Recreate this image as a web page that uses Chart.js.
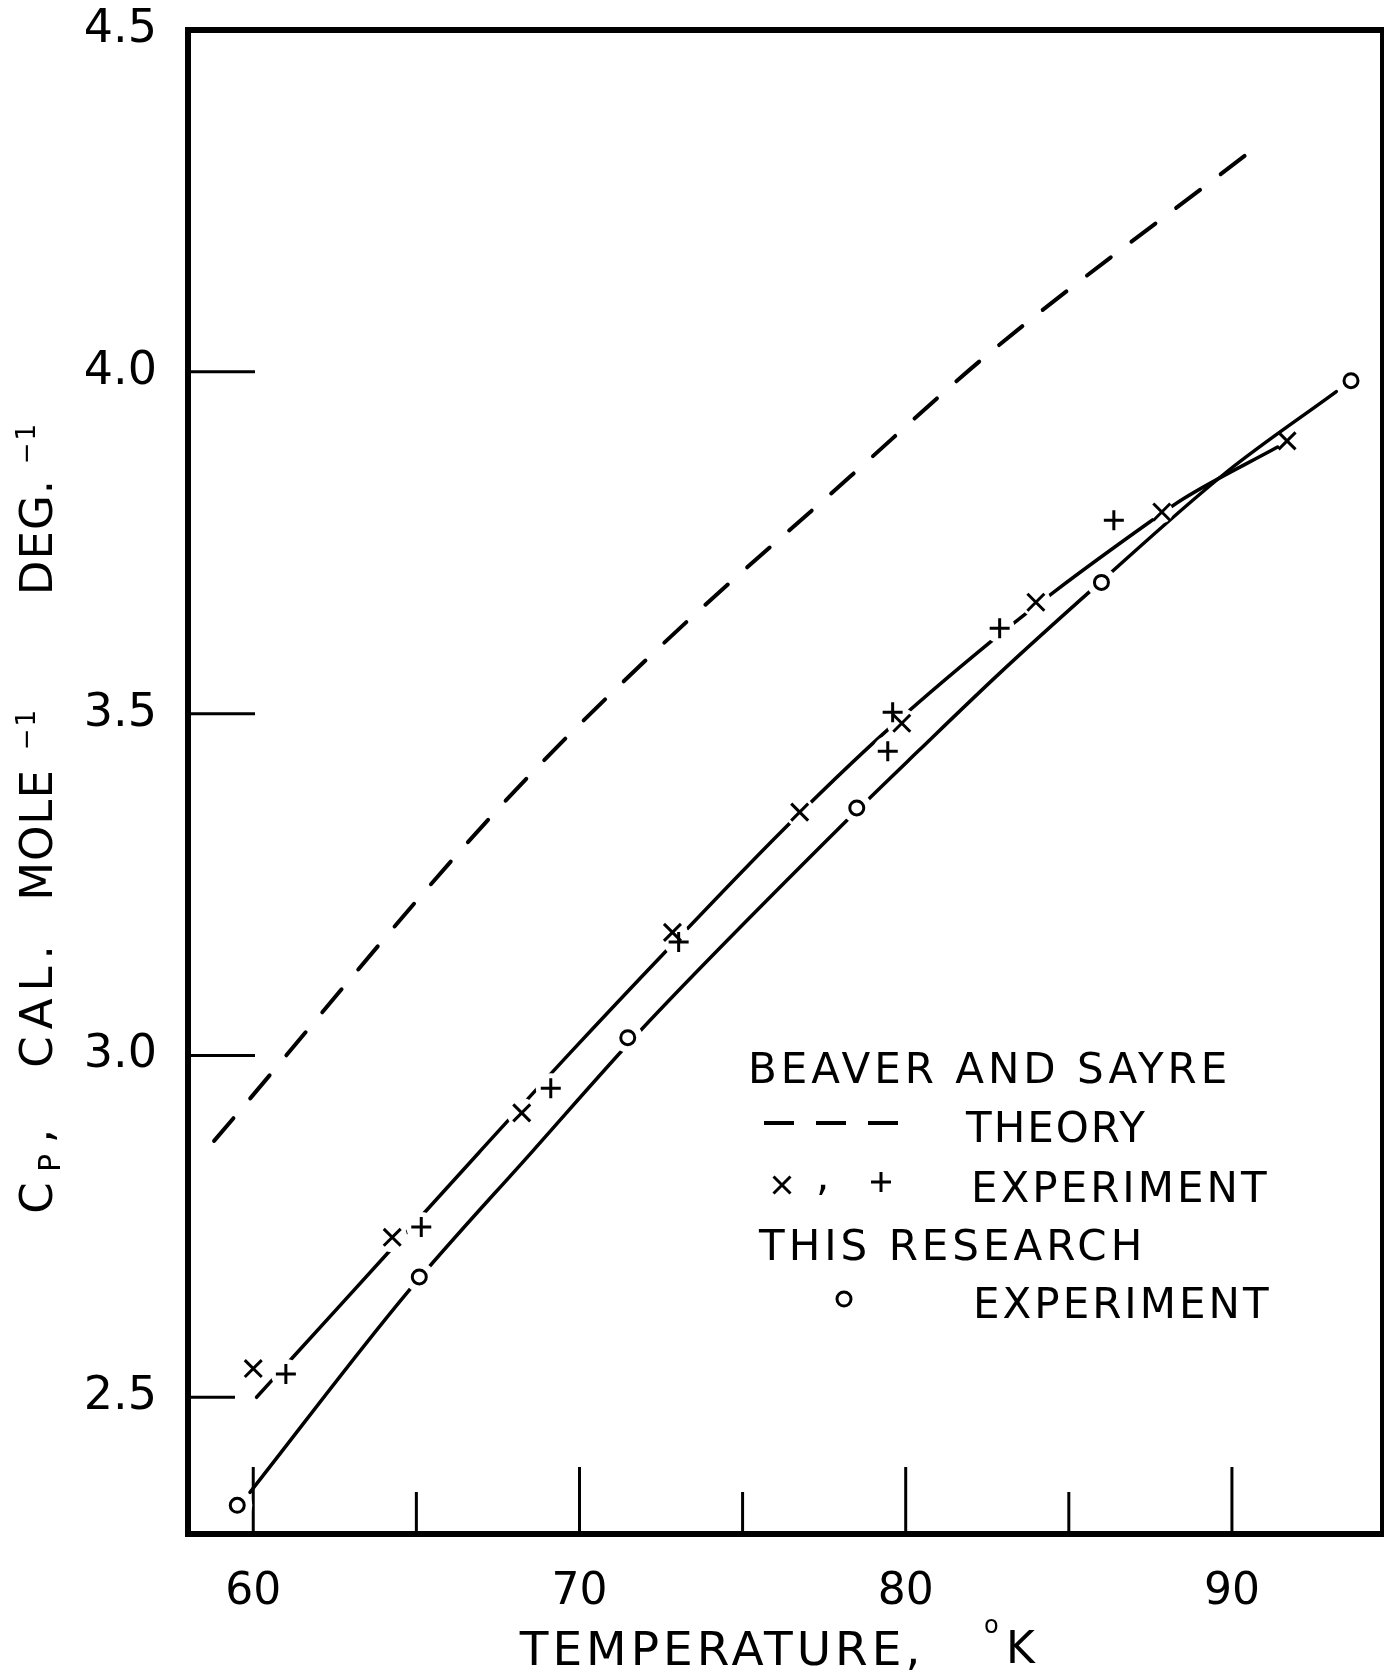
<!DOCTYPE html>
<html>
<head>
<meta charset="utf-8">
<script src="https://cdn.jsdelivr.net/npm/chart.js@4.4.1/dist/chart.umd.min.js"></script>
<style>
html,body{margin:0;padding:0;background:#fff;}
#wrap{width:1385px;height:1680px;position:relative;}
canvas{display:block;}
</style>
</head>
<body>
<div id="wrap"><canvas id="c" width="1385" height="1680"></canvas></div>
<script>
// ---------- data ----------
const xTickValues = [60, 70, 80, 90];
const xMinorTickValues = [65, 75, 85];
const yTickValues = [2.5, 3.0, 3.5, 4.0, 4.5];

// Beaver and Sayre, theory (dashed)
const theoryT  = [58.8, 67.55, 72.36, 78.28, 82.58, 90.5];
const theoryCp = [2.875, 3.363, 3.593, 3.846, 4.028, 4.32];

// Beaver and Sayre, experiment: smooth curve
const bsCurveT  = [60.1, 61.3, 64.2, 66.9, 69.7, 72.7, 76.2, 79.3, 82.6, 84.6, 87.5, 88.5, 91.4];
const bsCurveCp = [2.500, 2.563, 2.715, 2.857, 3.003, 3.155, 3.328, 3.470, 3.605, 3.680, 3.781, 3.814, 3.890];

// Beaver and Sayre, experiment: x points
const bsCrossT  = [60.0, 64.26, 68.23, 72.85, 76.75, 79.88, 83.99, 87.85, 91.69];
const bsCrossCp = [2.542, 2.734, 2.916, 3.180, 3.356, 3.486, 3.663, 3.795, 3.899];

// Beaver and Sayre, experiment: + points
const bsPlusT  = [61.0, 65.15, 69.12, 73.04, 79.6, 79.45, 82.88, 86.38];
const bsPlusCp = [2.534, 2.749, 2.952, 3.166, 3.502, 3.445, 3.625, 3.783];

// This research, experiment: o points
const thisT  = [59.51, 65.09, 71.48, 78.5, 86.0, 93.65];
const thisCp = [2.342, 2.676, 3.026, 3.362, 3.692, 3.987];

// This research: smooth curve
const thisCurveT  = [59.9, 64.7, 68.6, 71.9, 78.2, 80.4, 82.9, 85.7, 89.8, 93.2];
const thisCurveCp = [2.361, 2.652, 2.862, 3.038, 3.344, 3.446, 3.560, 3.681, 3.852, 3.971];

// ---------- chart ----------
const FONT = "'DejaVu Sans', 'Liberation Sans', sans-serif";
const toXY = (xs, ys) => xs.map((x, i) => ({ x: x, y: ys[i] }));

function setSpacing(ctx, px) { try { ctx.letterSpacing = px + 'px'; } catch (e) {} }

function drawMarker(ctx, style, radius, x, y) {
  ctx.save();
  ctx.strokeStyle = '#000';
  ctx.fillStyle = '#fff';
  ctx.lineWidth = 3;
  if (Chart.helpers && Chart.helpers.drawPoint) {
    Chart.helpers.drawPoint(ctx, { pointStyle: style, radius: radius, rotation: 0, borderWidth: 3 }, x, y);
  }
  ctx.restore();
}

const paperPlugin = {
  id: 'paperPlugin',
  beforeDatasetsDraw(chart) {
    const { ctx, chartArea: a, scales } = chart;
    const xs = scales.x, ys = scales.y;
    ctx.save();
    ctx.strokeStyle = '#000';
    ctx.lineWidth = 3;
    yTickValues.forEach((v, i) => {
      if (v >= ys.max) return;
      const py = ys.getPixelForValue(v);
      const len = i === 0 ? 47 : 67;   // lowest tick is drawn shorter in the original
      ctx.beginPath(); ctx.moveTo(a.left, py); ctx.lineTo(a.left + len, py); ctx.stroke();
    });
    xTickValues.forEach(v => {
      const px = xs.getPixelForValue(v);
      ctx.beginPath(); ctx.moveTo(px, a.bottom); ctx.lineTo(px, a.bottom - 67); ctx.stroke();
    });
    xMinorTickValues.forEach(v => {
      const px = xs.getPixelForValue(v);
      ctx.beginPath(); ctx.moveTo(px, a.bottom); ctx.lineTo(px, a.bottom - 42); ctx.stroke();
    });
    ctx.restore();
  },
  afterDatasetsDraw(chart) {
    const { ctx, chartArea: a } = chart;
    ctx.save();
    // frame
    ctx.strokeStyle = '#000';
    ctx.lineWidth = 6;
    ctx.beginPath();
    ctx.moveTo(a.right, a.top); ctx.lineTo(a.left, a.top); ctx.lineTo(a.left, a.bottom); ctx.lineTo(a.right, a.bottom);
    ctx.stroke();
    ctx.lineWidth = 4;
    ctx.beginPath(); ctx.moveTo(a.right, a.top - 3); ctx.lineTo(a.right, a.bottom + 3); ctx.stroke();

    ctx.fillStyle = '#000';
    ctx.textBaseline = 'alphabetic';

    // x axis title
    ctx.textAlign = 'center';
    ctx.font = '47px ' + FONT;
    setSpacing(ctx, 4);
    ctx.fillText('TEMPERATURE,', 722, 1665);
    setSpacing(ctx, 0);
    ctx.textAlign = 'left';
    ctx.font = '24px ' + FONT;
    ctx.fillText('o', 984, 1633);
    ctx.font = '44px ' + FONT;
    ctx.fillText('K', 1006, 1663);

    // y axis title (rotated)
    ctx.save();
    ctx.translate(52, 1213);
    ctx.rotate(-Math.PI / 2);
    ctx.textAlign = 'center';
    ctx.font = '45px ' + FONT;
    setSpacing(ctx, 0);
    ctx.fillText('C', 15, 0);
    ctx.font = '30px ' + FONT;
    ctx.fillText('P', 50, 8);
    ctx.font = '45px ' + FONT;
    ctx.fillText(',', 77, 0);
    setSpacing(ctx, 7);
    ctx.fillText('CAL.', 210, 0);
    setSpacing(ctx, 1);
    ctx.fillText('MOLE', 378, 0);
    setSpacing(ctx, 1);
    ctx.fillText('DEG.', 676, 0);
    ctx.font = '26px ' + FONT;
    setSpacing(ctx, 2);
    ctx.fillText('\u22121', 484, -17);
    ctx.fillText('\u22121', 770, -17);
    ctx.restore();

    // legend block
    ctx.textAlign = 'left';
    ctx.font = '42px ' + FONT;
    setSpacing(ctx, 4);
    ctx.fillText('BEAVER AND SAYRE', 748, 1083);
    setSpacing(ctx, 2);
    ctx.fillText('THEORY', 966, 1142);
    setSpacing(ctx, 3);
    ctx.fillText('EXPERIMENT', 971, 1202);
    setSpacing(ctx, 4);
    ctx.fillText('THIS RESEARCH', 759, 1260);
    setSpacing(ctx, 3);
    ctx.fillText('EXPERIMENT', 973, 1318);
    setSpacing(ctx, 0);
    ctx.fillText(',', 816, 1190);

    // legend dash sample
    ctx.save();
    ctx.lineWidth = 4;
    ctx.setLineDash([30, 22]);
    ctx.beginPath(); ctx.moveTo(764, 1123); ctx.lineTo(898, 1123); ctx.stroke();
    ctx.restore();
    ctx.restore();

    drawMarker(ctx, 'crossRot', 12, 782, 1185);
    drawMarker(ctx, 'cross', 10, 881, 1182);
    drawMarker(ctx, 'circle', 7, 844, 1299);
  }
};

Chart.defaults.font.family = FONT;
Chart.defaults.color = '#000';

new Chart(document.getElementById('c'), {
  type: 'scatter',
  data: {
    datasets: [
      {
        label: 'Beaver and Sayre theory',
        data: toXY(theoryT, theoryCp),
        showLine: true, pointRadius: 0, borderColor: '#000', borderWidth: 4,
        borderDash: [30, 26], borderCapStyle: 'round',
        cubicInterpolationMode: 'monotone', fill: false, order: 3
      },
      {
        label: 'Beaver and Sayre curve',
        data: toXY(bsCurveT, bsCurveCp),
        showLine: true, pointRadius: 0, borderColor: '#000', borderWidth: 3.5,
        borderCapStyle: 'round', cubicInterpolationMode: 'monotone', fill: false, order: 3
      },
      {
        label: 'This research curve',
        data: toXY(thisCurveT, thisCurveCp),
        showLine: true, pointRadius: 0, borderColor: '#000', borderWidth: 3.5,
        borderCapStyle: 'round', cubicInterpolationMode: 'monotone', fill: false, order: 3
      },
      // white halos that break the curves around each marker
      {
        label: 'halo x',
        data: toXY(bsCrossT, bsCrossCp),
        pointStyle: 'circle',
        pointRadius: (c) => (c.dataIndex === 8 ? 0 : (c.dataIndex === 7 ? 11 : 15)),
        pointBackgroundColor: '#fff', pointBorderColor: '#fff', pointBorderWidth: 0, order: 2
      },
      {
        label: 'halo +',
        data: toXY(bsPlusT, bsPlusCp),
        pointStyle: 'circle', pointRadius: 15,
        pointBackgroundColor: '#fff', pointBorderColor: '#fff', pointBorderWidth: 0, order: 2
      },
      {
        label: 'halo o',
        data: toXY(thisT, thisCp),
        pointStyle: 'circle', pointRadius: 15,
        pointBackgroundColor: '#fff', pointBorderColor: '#fff', pointBorderWidth: 0, order: 2
      },
      // markers
      {
        label: 'Beaver and Sayre experiment (x)',
        data: toXY(bsCrossT, bsCrossCp),
        pointStyle: 'crossRot', pointRadius: 12, pointBorderWidth: 3,
        pointBorderColor: '#000', pointBackgroundColor: '#fff', order: 1
      },
      {
        label: 'Beaver and Sayre experiment (+)',
        data: toXY(bsPlusT, bsPlusCp),
        pointStyle: 'cross', pointRadius: 10, pointBorderWidth: 3,
        pointBorderColor: '#000', pointBackgroundColor: '#fff', order: 1
      },
      {
        label: 'This research experiment',
        data: toXY(thisT, thisCp),
        pointStyle: 'circle', pointRadius: 7, pointBorderWidth: 3,
        pointBorderColor: '#000', pointBackgroundColor: '#fff', order: 1
      }
    ]
  },
  options: {
    responsive: false,
    animation: false,
    devicePixelRatio: 1,
    events: [],
    layout: { autoPadding: false, padding: { left: 0, right: 3, top: 30, bottom: 0 } },
    plugins: { legend: { display: false }, tooltip: { enabled: false } },
    scales: {
      x: {
        type: 'linear', min: 58, max: 94.6,
        afterBuildTicks: (s) => { s.ticks = xTickValues.map(v => ({ value: v })); },
        afterFit: (s) => { s.height = 146; s.paddingLeft = 0; s.paddingRight = 0; },
        grid: { display: false }, border: { display: false },
        ticks: {
          font: { size: 44, family: FONT }, color: '#000', padding: 24,
          maxRotation: 0, autoSkip: false, callback: (v) => String(v)
        }
      },
      y: {
        type: 'linear', min: 2.3, max: 4.5,
        afterBuildTicks: (s) => { s.ticks = yTickValues.map(v => ({ value: v })); },
        afterFit: (s) => { s.width = 188; s.paddingTop = 0; s.paddingBottom = 0; },
        grid: { display: false }, border: { display: false },
        ticks: {
          font: { size: 46, family: FONT }, color: '#000', padding: 23,
          autoSkip: false, callback: (v) => Number(v).toFixed(1)
        }
      }
    }
  },
  plugins: [paperPlugin]
});
</script>
</body>
</html>
